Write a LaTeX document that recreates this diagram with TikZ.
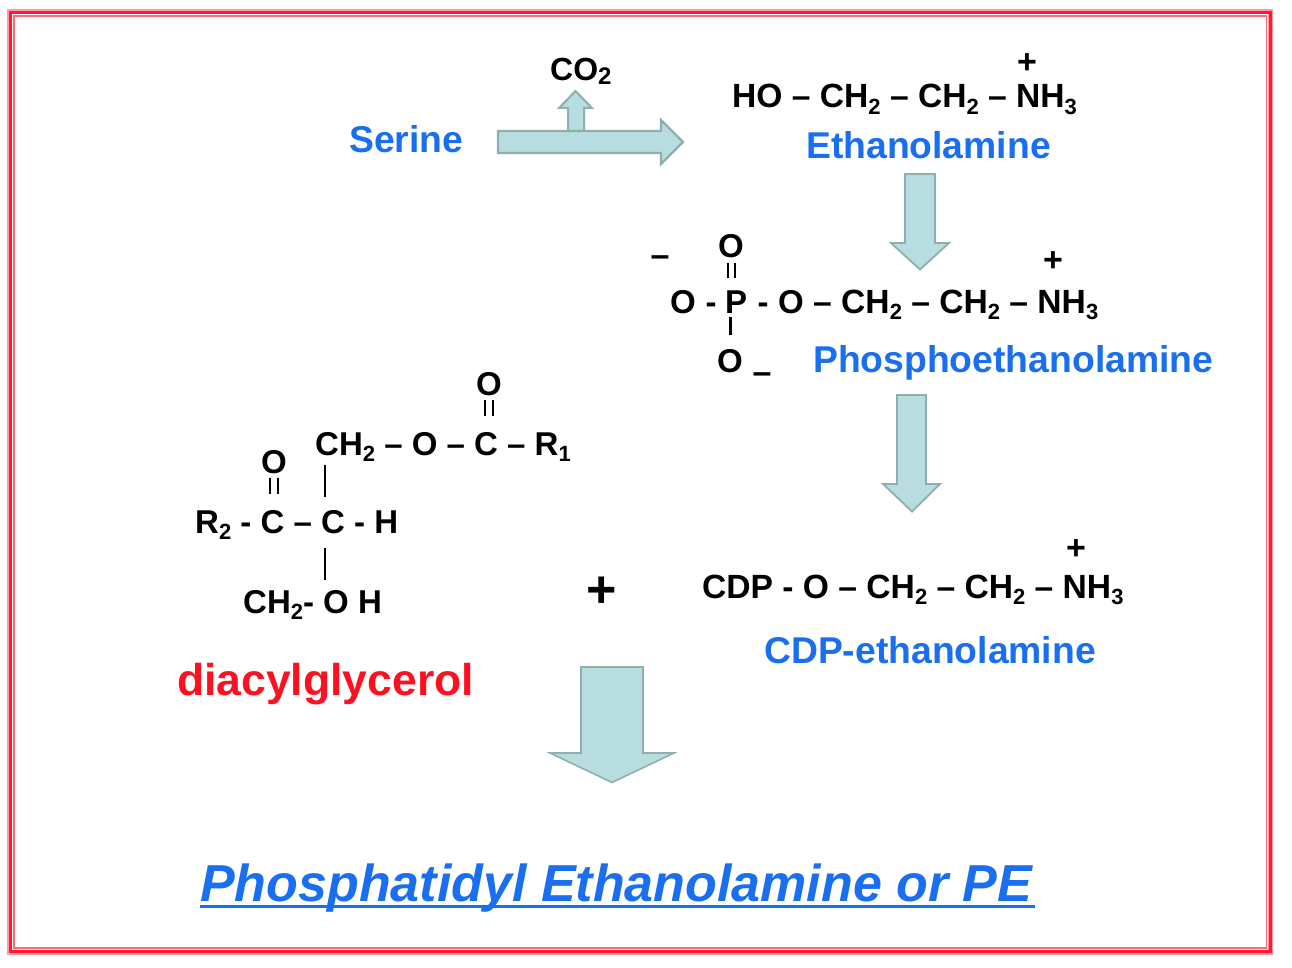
\documentclass[tikz,border=0pt]{standalone}
\usepackage{fontspec}
\setmainfont{Liberation Sans}
\newcommand{\sbs}[1]{\raisebox{-0.2em}{\fontsize{22}{22}\selectfont #1}}
\tikzset{
  x=1pt,y=-1pt,
  chem/.style={font=\fontsize{33.6}{33.6}\selectfont\bfseries,text=black,inner sep=0pt,anchor=base west},
  diacyl/.style={font=\fontsize{33}{33}\selectfont\bfseries,text=black,inner sep=0pt,anchor=base west},
  atom/.style={font=\fontsize{33}{33}\selectfont\bfseries,text=black,inner sep=0pt,anchor=base},
  charge/.style={font=\fontsize{34}{34}\selectfont\bfseries,text=black,inner sep=0pt,anchor=center},
  bluelabel/.style={font=\fontsize{37.3}{37.3}\selectfont\bfseries,text=labelblue,inner sep=0pt,anchor=base west},
  blockarrow/.style={fill=arrowfill,draw=arrowedge,line width=2.4pt,line join=miter},
  bond/.style={draw=black,line width=2.8pt},
}
\definecolor{labelblue}{HTML}{1A6FF0}
\definecolor{arrowfill}{HTML}{B7DDE0}
\definecolor{arrowedge}{HTML}{8FAEAE}
\definecolor{frameRed}{HTML}{FF1A30}
\definecolor{framePink}{HTML}{FF9AA6}
\definecolor{frameInner}{HTML}{FF6A7A}
\definecolor{dagRed}{HTML}{FF0F1F}
\begin{document}
\begin{tikzpicture}
\useasboundingbox (0,0) rectangle (1292,968);
% frame
\draw[framePink,line width=6pt] (10,12.5) rectangle (1270,951.5);
\draw[frameRed,line width=3pt] (10,12.5) rectangle (1270,951.5);
\draw[white,line width=1pt] (12.5,15) rectangle (1267.5,949);
\draw[frameInner,line width=1.6pt] (14,16) rectangle (1266.5,948);
% block arrows
\draw[blockarrow,line width=2pt] (568,131) -- (568,108) -- (559,108) -- (575.5,91) -- (592,108) -- (584,108) -- (584,131) -- cycle;
\draw[blockarrow] (498,131) -- (661,131) -- (661,120) -- (683,142) -- (661,164) -- (661,153) -- (498,153) -- cycle;
\draw[blockarrow,line width=1.8pt] (905,174) -- (935,174) -- (935,243) -- (949,243) -- (920,269.5) -- (891,243) -- (905,243) -- cycle;
\draw[blockarrow,line width=1.8pt] (897,395) -- (926,395) -- (926,484) -- (940,484) -- (912,511.5) -- (883,484) -- (897,484) -- cycle;
\draw[blockarrow,line width=1.6pt] (581,667) -- (643,667) -- (643,753) -- (674,753) -- (612,782.5) -- (550,753) -- (581,753) -- cycle;
% top
\node[bluelabel] (serine) at (349,153) {Serine};
\node[chem,font=\fontsize{32}{32}\selectfont\bfseries] (co2) at (550,81) {CO\raisebox{-0.1em}{\fontsize{24}{24}\selectfont 2}};
\node[chem] (ethanol) at (732,108) {HO – CH\sbs{2} – CH\sbs{2} – NH\sbs{3}};
\node[charge] (plusa) at (1027,64) {+};
\node[bluelabel] (ethlabel) at (806,159) {Ethanolamine};
% phosphoethanolamine
\node[charge] (minusa) at (660,261) {–};
\node[atom] (otop) at (731,258) {O};
\node[atom] (oleft) at (683,313) {O};
\node[atom] (dasha) at (711,313) {-};
\node[atom] (p) at (736,313) {P};
\node[atom] (dashb) at (763,313) {-};
\node[atom] (oright) at (791,313) {O};
\node[chem] (pechain) at (813,313) {– CH\sbs{2} – CH\sbs{2} – NH\sbs{3}};
\node[atom] (obot) at (730,372) {O};
\node[charge] (minusb) at (762,378) {–};
\node[charge] (plusb) at (1053,262) {+};
\node[bluelabel] (pelabel) at (813,372) {Phosphoethanolamine};
\coordinate (pdba) at (728,263); \coordinate (pdbb) at (728,278);
\coordinate (pdbc) at (735,263); \coordinate (pdbd) at (735,278);
\coordinate (psa) at (730.5,317); \coordinate (psb) at (730.5,335);
\draw[bond] (pdba) -- (pdbb);
\draw[bond] (pdbc) -- (pdbd);
\draw[bond] (psa) -- (psb);
% diacylglycerol
\node[atom] (oa) at (489,395) {O};
\node[diacyl] (cha) at (315,455) {CH\sbs{2} – O – C – R\sbs{1}};
\node[atom] (ob) at (274,473.5) {O};
\node[diacyl] (rtwo) at (195,533) {R\sbs{2} - C – C - H};
\node[diacyl] (chb) at (243,613) {CH\sbs{2}- O H};
\coordinate (da) at (485,400); \coordinate (db) at (485,416);
\coordinate (dc) at (493,400); \coordinate (dd) at (493,416);
\coordinate (de) at (270,478); \coordinate (df) at (270,494);
\coordinate (dg) at (278,478); \coordinate (dh) at (278,494);
\coordinate (di) at (325,465); \coordinate (dj) at (325,497);
\coordinate (dk) at (325,548); \coordinate (dl) at (325,580);
\draw[bond] (da) -- (db);
\draw[bond] (dc) -- (dd);
\draw[bond] (de) -- (df);
\draw[bond] (dg) -- (dh);
\draw[bond,line width=2pt] (di) -- (dj);
\draw[bond,line width=2pt] (dk) -- (dl);
\node[inner sep=0pt,anchor=base west,font=\fontsize{44.5}{44.5}\selectfont\bfseries,text=dagRed] (dag) at (177,695) {diacylglycerol};
\node[charge,font=\fontsize{52}{52}\selectfont\bfseries] (plusc) at (602,592) {+};
% CDP
\node[charge] (plusd) at (1076,550) {+};
\node[chem] (cdp) at (702,598) {CDP - O – CH\sbs{2} – CH\sbs{2} – NH\sbs{3}};
\node[bluelabel] (cdplabel) at (764,663) {CDP-ethanolamine};
% title
\node[inner sep=0pt,anchor=base west,font=\fontsize{52}{52}\selectfont\bfseries\itshape,text=labelblue] (title) at (200,901) {Phosphatidyl Ethanolamine or PE};
\coordinate (ula) at (200,906); \coordinate (ulb) at (1035,906);
\draw[labelblue,line width=3pt] (ula) -- (ulb);
\end{tikzpicture}
\end{document}
